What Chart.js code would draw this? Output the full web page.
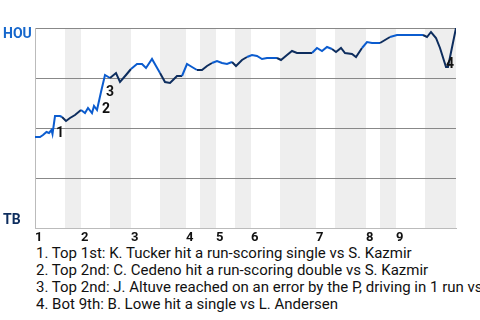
<!DOCTYPE html>
<html>
<head>
<meta charset="utf-8">
<script src="https://cdn.jsdelivr.net/npm/chart.js@4.4.1/dist/chart.umd.min.js"></script>
<style>
  body { margin: 0; background: #fff; font-family: Roboto, sans-serif; }
  #wrap { position: relative; width: 480px; height: 320px; overflow: hidden; }
  #chart { position: absolute; left: 0; top: 0; }
  #plays { position: absolute; left: 36px; top: 245px; right: 0; font-size: 15px; line-height: 17px;
           color: #111; white-space: nowrap; overflow: hidden; }
</style>
</head>
<body>
<div id="wrap">
  <canvas id="chart" width="480" height="245"></canvas>
  <div id="plays"></div>
</div>
<script>
// position of each plate appearance along the game, and HOU win probability after it (%)
const playX = [0, 1, 1.6, 2.3, 2.8, 3.3, 3.5, 4, 5, 5.4, 6.2, 7, 8, 9.2,
  10, 10.6, 11.4, 11.8, 12.4, 13.2, 14, 15, 16.2, 17, 18.2, 19.2,
  20.4, 21.4, 22.2, 23.4, 24.2, 25, 26, 27, 27.6, 28.4, 29.4,
  30.4, 31.4, 32.4, 33.4, 34.4, 35.4, 36.4, 37.4, 38.4, 39.4,
  40.2, 41.4, 42.4, 43.4, 44.4, 45.4, 46.4, 47.4, 48.4, 49.2,
  50.4, 51.4, 52.4, 53.4, 54.4, 55.4, 56.4, 57.4, 58.4, 59.4,
  60.2, 61.2, 62, 63.4, 64.2, 65.4, 66.4, 67.4, 69,
  70, 71, 72.4, 73.4, 75.4, 77.6, 78.4, 79.2, 80.2, 81, 82.2, 82.6, 84.2];
const houWinPct = [45.5, 45.5, 46.5, 48, 47.5, 49, 47, 56, 56, 55.5, 53.5, 55, 56.5, 59,
  57.5, 60, 57.5, 61, 59, 68, 76.5, 75, 77.5, 73, 76.5, 79.5,
  82, 82, 80, 84.5, 81, 77.5, 73, 72.5, 74, 76, 76,
  82, 80.5, 79, 79, 81, 82.5, 83.5, 82.5, 82, 83,
  81, 84, 85.5, 86.5, 86, 84.5, 85, 85, 85, 84,
  86.5, 88.5, 87.5, 87.5, 87.5, 87.5, 90, 88.5, 90.5, 89.5,
  88, 90, 87.5, 87, 85.5, 90, 93, 92.5, 92.5,
  94, 95.5, 96.5, 96.5, 96.5, 96.5, 95.5, 98, 95, 90, 80.5, 80.5, 100];

// half-inning boundaries on the same axis
const topStarts = [0, 9.2, 19.2, 30.2, 36.2, 43.2, 56.2, 66.2, 72.2];
const botStarts = [6, 15, 25, 33, 40, 49, 60, 69, 78];
const gameEnd = 84.2;
const inningLabels = ['1', '2', '3', '4', '5', '6', '7', '8', '9'];

// key plays marked on the line
const keyPlayX = [4, 13.2, 14, 82.2];
const keyPlayLabels = ['1', '2', '3', '4'];
const keyPlayText = [
  'Top 1st: K. Tucker hit a run-scoring single vs S. Kazmir',
  'Top 2nd: C. Cedeno hit a run-scoring double vs S. Kazmir',
  'Top 2nd: J. Altuve reached on an error by the P, driving in 1 run vs S. Kazmir',
  'Bot 9th: B. Lowe hit a single vs L. Andersen'
];

const BLUE = '#0b5ccf';
const NAVY = '#0d2d5e';

Chart.defaults.font.family = 'Roboto, sans-serif';

function inBottomHalf(x) {
  for (let i = 0; i < botStarts.length; i++) {
    const end = i + 1 < topStarts.length ? topStarts[i + 1] : gameEnd;
    if (x > botStarts[i] && x <= end) return true;
  }
  return false;
}

const bandsPlugin = {
  id: 'bands',
  beforeDraw(chart) {
    const { ctx, chartArea, scales } = chart;
    ctx.save();
    ctx.fillStyle = '#eeeeee';
    botStarts.forEach((b, i) => {
      const end = i + 1 < topStarts.length ? topStarts[i + 1] : gameEnd;
      const x0 = scales.x.getPixelForValue(b);
      const x1 = scales.x.getPixelForValue(end);
      ctx.fillRect(x0, chartArea.top, x1 - x0, chartArea.bottom - chartArea.top);
    });
    ctx.restore();
  }
};

const labelsPlugin = {
  id: 'labels',
  afterDraw(chart) {
    const ctx = chart.ctx;
    const meta = chart.getDatasetMeta(0);
    ctx.save();
    ctx.font = 'bold 14px Roboto';
    ctx.textAlign = 'left';
    ctx.textBaseline = 'alphabetic';
    ctx.fillStyle = '#1667cc';
    ctx.fillText('HOU', 3, 38);
    ctx.fillStyle = NAVY;
    ctx.fillText('TB', 3, 224);

    ctx.fillStyle = '#111';
    keyPlayX.forEach((kx, i) => {
      const idx = playX.indexOf(kx);
      const pt = meta.data[idx];
      const rising = houWinPct[idx] > houWinPct[idx - 1];
      if (rising) {
        ctx.fillText(keyPlayLabels[i], pt.x + 1, pt.y + 20.5);
      } else {
        ctx.fillText(keyPlayLabels[i], pt.x, pt.y + 1);
      }
    });
    ctx.restore();
  }
};

new Chart(document.getElementById('chart'), {
  type: 'line',
  data: {
    datasets: [{
      data: playX.map((x, i) => ({ x: x, y: houWinPct[i] })),
      borderWidth: 2,
      borderColor: BLUE,
      pointRadius: 0,
      tension: 0,
      segment: {
        borderColor: c => inBottomHalf(c.p1.parsed.x) ? NAVY : BLUE
      }
    }]
  },
  options: {
    responsive: false,
    animation: false,
    layout: { padding: { top: 28, right: 24, left: 0, bottom: 0 } },
    plugins: { legend: { display: false }, tooltip: { enabled: false } },
    scales: {
      x: {
        type: 'linear',
        min: 0,
        max: gameEnd,
        grid: { display: false, drawTicks: false },
        border: { color: '#bbbbbb' },
        afterBuildTicks: s => { s.ticks = topStarts.map(v => ({ value: v })); },
        afterFit: s => { s.height = 17; },
        ticks: {
          align: 'start',
          autoSkip: false,
          maxRotation: 0,
          padding: 2,
          color: '#111',
          font: { weight: 'bold', size: 13 },
          callback: (v, i) => inningLabels[i]
        }
      },
      y: {
        min: 0,
        max: 100,
        ticks: { display: false, stepSize: 25 },
        grid: {
          drawTicks: false,
          color: c => c.tick.value === 0 ? '#bbbbbb' : '#888888'
        },
        border: { color: '#bbbbbb' },
        afterFit: s => { s.width = 35; }
      }
    }
  },
  plugins: [bandsPlugin, labelsPlugin]
});

const plays = document.getElementById('plays');
keyPlayText.forEach((t, i) => {
  const d = document.createElement('div');
  d.textContent = keyPlayLabels[i] + '. ' + t;
  plays.appendChild(d);
});
</script>
</body>
</html>
